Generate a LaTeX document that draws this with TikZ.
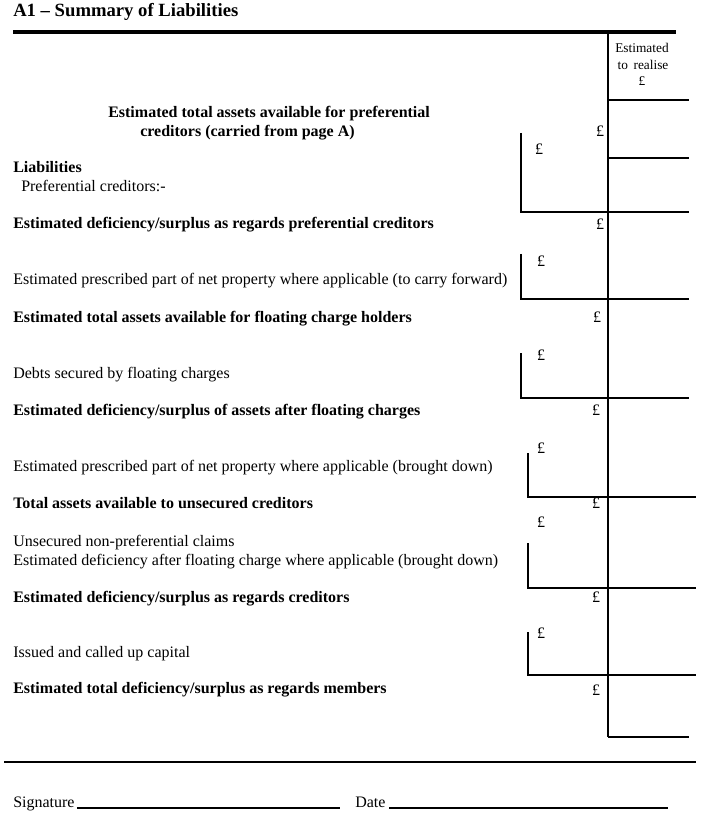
\documentclass[tikz,border=0pt]{standalone}
\usepackage{fontspec}
\setmainfont{Liberation Serif}
\usepackage{tikz}
\tikzset{
  txt/.style={anchor=base west,inner sep=0pt,font=\fontsize{12}{14.4}\selectfont},
  txtb/.style={txt,font=\fontsize{12}{14.4}\selectfont\bfseries},
  pound/.style={anchor=base,inner sep=0pt,font=\fontsize{12}{14.4}\selectfont},
  head/.style={anchor=base,inner sep=0pt,font=\fontsize{10}{12}\selectfont},
  rule/.style={line width=1.1pt},
}
\begin{document}
\begin{tikzpicture}[x=0.75pt,y=-0.75pt]
						\useasboundingbox (0,0) rectangle (700,816);
						\node[anchor=base west,inner sep=0pt,font=\fontsize{14}{16}\selectfont\bfseries] (title) at (13,17) {A1 -- Summary of Liabilities};
						\draw[line width=3pt] (13,32)--(676,32);
						\draw[rule] (608,32)--(608,737);
						\draw[rule] (608,100)--(689,100);
						\draw[rule] (608,158)--(689,158);
						\draw[rule] (608,737)--(689,737);
						\draw[rule] (521,133)--(521,212)--(689,212);
						\draw[rule] (521,254)--(521,299)--(689,299);
						\draw[rule] (521,353)--(521,398)--(689,398);
						\draw[rule] (528,453)--(528,497)--(696,497);
						\draw[rule] (528,543)--(528,588)--(696,588);
						\draw[rule] (528,632)--(528,675)--(696,675);
						\node[head] (hd1) at (642,53) {Estimated};
						\node[head] (hd2) at (643,70) {to\, realise};
						\node[head] (hd3) at (642,86) {\pounds};
						\node[txtb] (ta1) at (108,118) {Estimated total assets available for preferential};
						\node[txtb] (ta2) at (140,137) {creditors (carried from page A)};
						\node[txtb] (liab) at (13,173) {Liabilities};
						\node[txt] (pref) at (21,192) {Preferential creditors:-};
						\node[txtb] (r1) at (13,229) {Estimated deficiency/surplus as regards preferential creditors};
						\node[txt] (r2) at (13,285) {Estimated prescribed part of net property where applicable (to carry forward)};
						\node[txtb] (r3) at (13,322) {Estimated total assets available for floating charge holders};
						\node[txt] (r4) at (13,378) {Debts secured by floating charges};
						\node[txtb] (r5) at (13,415) {Estimated deficiency/surplus of assets after floating charges};
						\node[txt] (r6) at (13,471) {Estimated prescribed part of net property where applicable (brought down)};
						\node[txtb] (r7) at (13,508) {Total assets available to unsecured creditors};
						\node[txt] (r8) at (13,546) {Unsecured non-preferential claims};
						\node[txt] (r9) at (13,565) {Estimated deficiency after floating charge where applicable (brought down)};
						\node[txtb] (r10) at (13,602) {Estimated deficiency/surplus as regards creditors};
						\node[txt] (r11) at (13,657) {Issued and called up capital};
						\node[txtb] (r12) at (13,693) {Estimated total deficiency/surplus as regards members};
						\node[pound] (p1) at (600,137) {\pounds};
						\node[pound] (q1) at (539,155) {\pounds};
						\node[pound] (p2) at (600,230) {\pounds};
						\node[pound] (q2) at (541,267) {\pounds};
						\node[pound] (p3) at (597,322) {\pounds};
						\node[pound] (q3) at (541,360) {\pounds};
						\node[pound] (p4) at (596,415) {\pounds};
						\node[pound] (q4) at (541,453) {\pounds};
						\node[pound] (p5) at (596,508) {\pounds};
						\node[pound] (q5) at (541,527) {\pounds};
						\node[pound] (p6) at (596,602) {\pounds};
						\node[pound] (q6) at (541,638) {\pounds};
						\node[pound] (p7) at (596,695) {\pounds};
						\draw[rule] (4,762)--(696,762);
						\node[txt] (sig) at (13,807) {Signature};
						\draw[line width=0.8pt] (77,808)--(340,808);
						\node[txt] (date) at (355,807) {Date};
						\draw[line width=0.8pt] (389,808)--(668,808);
					\end{tikzpicture}
\end{document}
